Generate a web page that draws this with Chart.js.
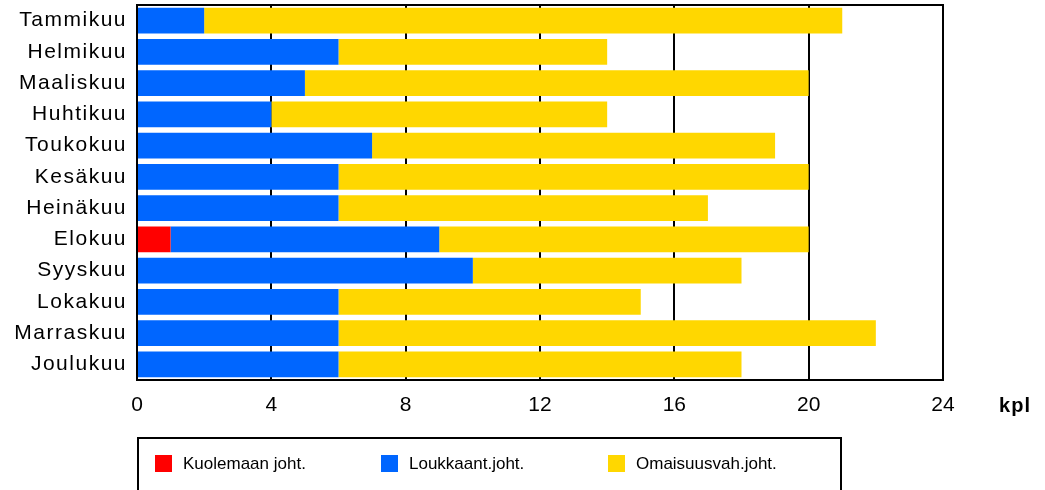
<!DOCTYPE html>
<html><head><meta charset="utf-8">
<script src="https://cdn.jsdelivr.net/npm/chart.js@4"></script>
<style>html,body{margin:0;padding:0;background:#fff}#wrap{width:1045px;height:490px}</style>
</head><body><div id="wrap"><canvas id="c" width="1045" height="490"></canvas></div>
<script>
const months = ["Tammikuu","Helmikuu","Maaliskuu","Huhtikuu","Toukokuu","Kesäkuu","Heinäkuu","Elokuu","Syyskuu","Lokakuu","Marraskuu","Joulukuu"];
const kuolemaan = [0,0,0,0,0,0,0,1,0,0,0,0];
const loukkaant = [2,6,5,4,7,6,6,8,10,6,6,6];
const omaisuus = [19,8,15,10,12,14,11,11,8,9,16,12];
const seriesNames = ["Kuolemaan joht.","Loukkaant.joht.","Omaisuusvah.joht."];
const seriesColors = ["#FF0000","#0066FF","#FFD700"];
const xTicks = [0,4,8,12,16,20,24];
const unitLabel = "kpl";
const FONT = "'Liberation Sans', Arial, sans-serif";

const framePlugin = {
  id: 'frame',
  beforeDraw(chart) {
    chart.ctx.letterSpacing = '1.5px';
  },
  beforeDatasetsDraw(chart) {
    chart.ctx.letterSpacing = '0px';
  },
  afterDraw(chart) {
    const {ctx, chartArea: a} = chart;
    ctx.save();
    ctx.letterSpacing = '0px';
    ctx.strokeStyle = '#000';
    ctx.lineWidth = 2;
    ctx.strokeRect(a.left, a.top, a.right - a.left, a.bottom - a.top);
    ctx.font = "bold 20px " + FONT;
    ctx.fillStyle = '#000';
    ctx.textAlign = 'center';
    ctx.textBaseline = 'middle';
    ctx.letterSpacing = '1px';
    ctx.fillText(unitLabel, 1015, 406);
    ctx.letterSpacing = '0px';
    ctx.lineWidth = 2;
    ctx.strokeRect(138, 438, 703, 80);
    const xs = [155, 381, 608];
    ctx.font = "17px " + FONT;
    ctx.textAlign = 'left';
    seriesNames.forEach((n, i) => {
      ctx.fillStyle = seriesColors[i];
      ctx.fillRect(xs[i], 455, 17, 17);
      ctx.fillStyle = '#000';
      ctx.fillText(n, xs[i] + 28, 464);
    });
    ctx.restore();
  }
};

new Chart(document.getElementById('c'), {
  type: 'bar',
  data: {
    labels: months,
    datasets: [
      {label: seriesNames[0], data: kuolemaan, backgroundColor: seriesColors[0]},
      {label: seriesNames[1], data: loukkaant, backgroundColor: seriesColors[1]},
      {label: seriesNames[2], data: omaisuus, backgroundColor: seriesColors[2]}
    ]
  },
  options: {
    indexAxis: 'y',
    responsive: false,
    animation: false,
    devicePixelRatio: 1,
    layout: {padding: {top: 5, right: 102, bottom: 0, left: 0}},
    datasets: {bar: {barPercentage: 1, categoryPercentage: 0.83, borderWidth: 0}},
    plugins: {legend: {display: false}, tooltip: {enabled: false}},
    scales: {
      x: {
        stacked: true, min: 0, max: 24,
        afterBuildTicks(s) { s.ticks = xTicks.map(v => ({value: v})); },
        afterFit(s) { s.height = 110; s.paddingLeft = 0; s.paddingRight = 0; },
        grid: {color: '#000', lineWidth: 2, drawTicks: false},
        border: {display: true, color: '#000', width: 2},
        ticks: {color: '#000', font: {family: FONT, size: 21}, padding: 13, z: 1}
      },
      y: {
        stacked: true,
        grid: {display: false, drawTicks: false},
        border: {display: true, color: '#000', width: 2},
        ticks: {color: '#000', font: {family: FONT, size: 21}, padding: 10},
        afterFit(s) { s.width = 137; s.paddingTop = 0; s.paddingBottom = 0; }
      }
    }
  },
  plugins: [framePlugin]
});
</script></body></html>
